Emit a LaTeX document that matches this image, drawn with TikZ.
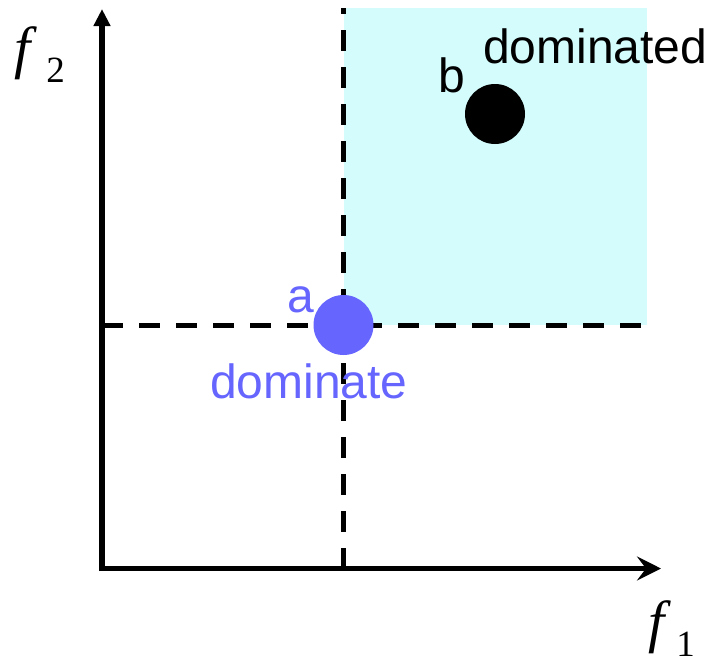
\documentclass[tikz,border=0pt]{standalone}
\usepackage{fontspec}
\setmainfont{Liberation Serif}
\setsansfont{Liberation Sans}
\usetikzlibrary{arrows.meta}
\definecolor{ablue}{RGB}{102,102,255}
\definecolor{domcyan}{RGB}{212,252,252}
\tikzset{
  axisline/.style={line width=5.5pt},
  dashline/.style={line width=5pt, dash pattern=on 21pt off 16pt},
  pointdot/.style={circle, inner sep=0pt, minimum size=60pt},
  lbl/.style={anchor=base west, inner sep=0pt, font=\sffamily\fontsize{48}{48}\selectfont},
  flbl/.style={anchor=base west, inner sep=0pt, font=\fontsize{58}{58}\selectfont},
}
\newcommand{\subidx}[1]{\raisebox{-15pt}{\upshape\fontsize{37}{37}\selectfont #1}}
\begin{document}
\begin{tikzpicture}[x=1pt,y=-1pt]
\useasboundingbox (0,0) rectangle (713,659);
% dominated region
\fill[domcyan] (343.5,8) rectangle (647,325);
% named coordinates
\coordinate (ybot) at (102,571);
\coordinate (ytip) at (102,9);
\coordinate (xleft) at (99.5,568.5);
\coordinate (xtip) at (661,568.5);
\coordinate (vtop) at (343.5,8);
\coordinate (vbot) at (343.5,568.5);
\coordinate (hleft) at (102,325);
\coordinate (hright) at (648,325);
% dashed lines
\draw[dashline] (vbot) -- (vtop);
\draw[dashline] (hleft) -- (hright);
% axes
\draw[axisline, -{Triangle[length=17pt,width=16pt]}] (ybot) -- (ytip);
\draw[axisline, -{Stealth[length=24pt,width=24pt,inset=9pt]}] (xleft) -- (xtip);
% points
\node[pointdot, fill=ablue] (a) at (343.5,325) {};
\node[pointdot, fill=black] (b) at (495,114) {};
% labels
\node[lbl, text=ablue] (la) at (287,312) {a};
\node[lbl, text=ablue] (lda) at (210,398) {dominate};
\node[lbl] (lb) at (438,92) {b};
\node[lbl] (ldb) at (483,63) {dominated};
\node[flbl] (f2) at (14,67) {\itshape f\kern16pt\subidx{2}};
\node[flbl] (f1) at (648,641) {\itshape f\kern12pt\subidx{1}};
\end{tikzpicture}
\end{document}
